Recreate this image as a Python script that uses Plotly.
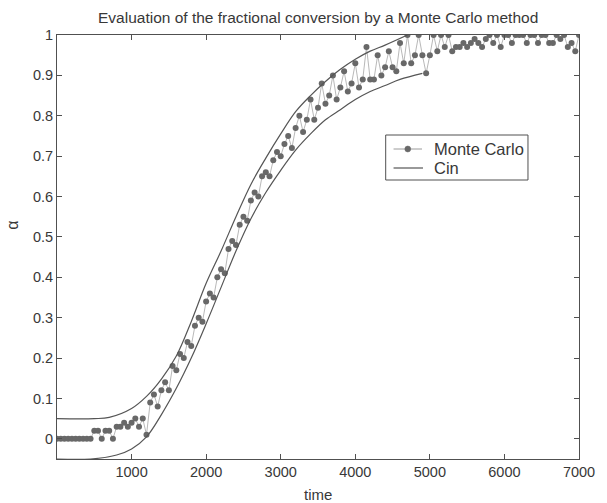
import plotly.graph_objects as go

# ---- Data ----
# Cin band (upper and lower curves)
cin_up_t = [0, 500, 700, 1000, 1200, 1400, 1600, 1800, 2000, 2200, 2400, 2600,
            2800, 3000, 3200, 3400, 3600, 3800, 4000, 4200, 4400, 4700]
cin_up_a = [0.05, 0.05, 0.053, 0.075, 0.105, 0.148, 0.205, 0.29, 0.385, 0.465, 0.55, 0.63,
            0.695, 0.755, 0.81, 0.85, 0.885, 0.915, 0.94, 0.96, 0.975, 1.0]
cin_lo_t = [0, 450, 800, 1000, 1200, 1400, 1600, 1800, 2000, 2200, 2400, 2600,
            2800, 3000, 3200, 3400, 3600, 3800, 4000, 4200, 4400, 4600, 4900]
cin_lo_a = [-0.05, -0.05, -0.04, -0.025, 0.005, 0.06, 0.125, 0.20, 0.285, 0.375, 0.465, 0.545,
            0.61, 0.665, 0.715, 0.755, 0.79, 0.815, 0.84, 0.86, 0.875, 0.89, 0.905]

# Monte Carlo samples, every 50 time units from 0 to 7000
mc_time = list(range(0, 7001, 50))
mc_alpha = [
    0, 0, 0, 0, 0, 0, 0, 0, 0, 0,                          # 0-450
    0.02, 0.02, 0, 0.02, 0.02, 0,                          # 500-750
    0.03, 0.03, 0.04, 0.03, 0.04, 0.05, 0.03, 0.05, 0.01,  # 800-1200
    0.09, 0.11, 0.08, 0.12, 0.14, 0.12, 0.18, 0.17, 0.21, 0.20,  # 1250-1700
    0.24, 0.23, 0.28, 0.30, 0.29, 0.34, 0.36, 0.35, 0.40, 0.42,  # 1750-2200
    0.41, 0.47, 0.49, 0.48, 0.53, 0.55, 0.54, 0.59, 0.61, 0.60,  # 2250-2700
    0.65, 0.66, 0.65, 0.69, 0.71, 0.70, 0.73, 0.75, 0.72, 0.77,  # 2750-3200
    0.80, 0.76, 0.79, 0.84, 0.79, 0.82, 0.88, 0.83, 0.85, 0.90,  # 3250-3700
    0.84, 0.87, 0.91, 0.86, 0.88, 0.93, 0.87, 0.89, 0.97, 0.89,  # 3750-4200
    0.89, 0.95, 0.90, 0.92, 0.96, 0.92, 0.91, 0.98, 0.93, 1.0,   # 4250-4700
    0.93, 0.95, 1.0, 0.95, 0.905, 0.95, 1.0, 0.96, 1.0, 0.97,    # 4750-5200
    1.0, 0.96, 0.97, 0.97, 0.98, 0.97, 0.98, 0.99, 0.98, 0.97,   # 5250-5700
    0.99, 1.0, 0.98, 1.0, 0.97, 1.0, 1.0, 0.98, 1.0, 1.0,        # 5750-6200
    1.0, 0.98, 1.0, 1.0, 0.98, 1.0, 1.0, 0.98, 0.98, 1.0,        # 6250-6700
    0.99, 1.0, 0.97, 0.98, 0.96, 1.0                             # 6750-7000
]

x_ticks = [1000, 2000, 3000, 4000, 5000, 6000, 7000]
y_ticks = [0, 0.1, 0.2, 0.3, 0.4, 0.5, 0.6, 0.7, 0.8, 0.9, 1]
y_tick_labels = ["0", "0.1", "0.2", "0.3", "0.4", "0.5", "0.6", "0.7", "0.8", "0.9", "1"]
legend_labels = ["Monte Carlo", "Cin"]

FONT = "Liberation Sans, Arial, sans-serif"
TXT = "#383838"
AX = "#505050"
MC_LINE = "#9a9a9a"
MC_MARK = "#686868"
CIN = "#555555"

fig = go.Figure()

fig.add_trace(go.Scatter(
    x=mc_time, y=mc_alpha, mode="lines+markers", name=legend_labels[0],
    line=dict(color=MC_LINE, width=0.7),
    marker=dict(color=MC_MARK, size=6, symbol="circle"),
))
fig.add_trace(go.Scatter(
    x=cin_up_t, y=cin_up_a, mode="lines", name=legend_labels[1],
    line=dict(color=CIN, width=1.2, shape="spline", smoothing=1.0),
))
fig.add_trace(go.Scatter(
    x=cin_lo_t, y=cin_lo_a, mode="lines", name=legend_labels[1],
    line=dict(color=CIN, width=1.2, shape="spline", smoothing=1.0),
))

# ---- Legend box drawn in paper coordinates (MATLAB style) ----
PL, PR, PT, PB, W, H = 57, 18, 35, 44, 607, 503
pw, ph = W - PL - PR, H - PT - PB
def px(x):
    return (x - PL) / pw
def py(y):
    return (H - PB - y) / ph

shapes = [
    dict(type="rect", xref="paper", yref="paper", x0=px(392), x1=px(537),
         y0=py(180), y1=py(135), line=dict(color=AX, width=1), fillcolor="white",
         layer="above"),
    dict(type="line", xref="paper", yref="paper", x0=px(400), x1=px(429),
         y0=py(149), y1=py(149), line=dict(color=MC_LINE, width=1), layer="above"),
    dict(type="circle", xref="paper", yref="paper", x0=px(411.5), x1=px(417.5),
         y0=py(152), y1=py(146), line=dict(color=MC_MARK, width=0.5),
         fillcolor=MC_MARK, layer="above"),
    dict(type="line", xref="paper", yref="paper", x0=px(400), x1=px(430),
         y0=py(168), y1=py(168), line=dict(color=CIN, width=1.2), layer="above"),
]

annotations = [
    dict(text="Evaluation of the fractional conversion by a Monte Carlo method",
         xref="paper", yref="paper", x=0.5, y=1, yshift=18, xanchor="center",
         yanchor="middle", showarrow=False, font=dict(size=15.5, color=TXT)),
    dict(text="time", xref="paper", yref="paper", x=0.5, y=0, yshift=-35,
         xanchor="center", yanchor="middle", showarrow=False,
         font=dict(size=15, color=TXT)),
    dict(text="α", xref="paper", yref="paper", x=0, xshift=-44, y=0.55,
         xanchor="center", yanchor="middle", showarrow=False, textangle=-90,
         font=dict(size=16, color=TXT)),
    dict(text=legend_labels[0], xref="paper", yref="paper", x=px(439), y=py(149),
         xanchor="left", yanchor="middle", showarrow=False,
         font=dict(size=16.5, color=TXT)),
    dict(text=legend_labels[1], xref="paper", yref="paper", x=px(439), y=py(168),
         xanchor="left", yanchor="middle", showarrow=False,
         font=dict(size=16.5, color=TXT)),
]

fig.update_layout(
    width=W, height=H,
    margin=dict(l=PL, r=PR, t=PT, b=PB),
    paper_bgcolor="white", plot_bgcolor="white",
    font=dict(family=FONT, color=TXT, size=14),
    showlegend=False,
    shapes=shapes,
    annotations=annotations,
)

fig.update_xaxes(
    range=[0, 7000], tickvals=x_ticks, ticktext=[str(v) for v in x_ticks],
    ticks="inside", ticklen=5, tickcolor=AX, showline=True, linecolor=AX,
    linewidth=1, mirror="ticks", showgrid=False, zeroline=False,
    tickfont=dict(size=14.5, color=TXT),
)
fig.update_yaxes(
    range=[-0.05, 1], tickvals=y_ticks, ticktext=y_tick_labels,
    ticks="inside", ticklen=5, tickcolor=AX, showline=True, linecolor=AX,
    linewidth=1, mirror="ticks", showgrid=False, zeroline=False,
    tickfont=dict(size=14.5, color=TXT),
)

fig.write_html("out.html")
